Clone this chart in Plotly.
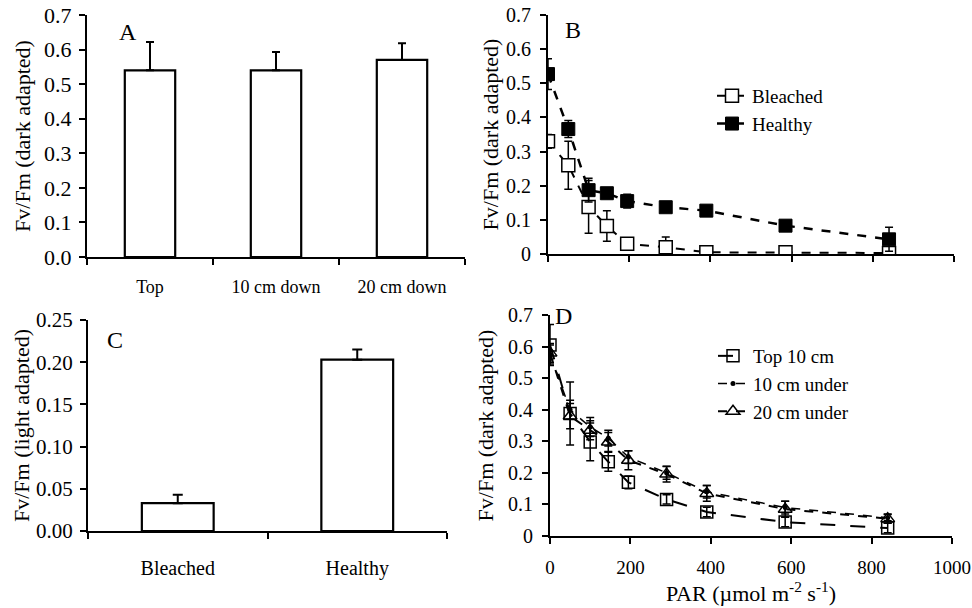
import plotly.graph_objects as go

# ---------------- data ----------------
A_cats = ["Top", "10 cm down", "20 cm down"]
A_vals = [0.54, 0.54, 0.57]
A_err = [0.082, 0.053, 0.048]

C_cats = ["Bleached", "Healthy"]
C_vals = [0.033, 0.203]
C_err = [0.010, 0.012]

PAR = [0, 50, 100, 145, 195, 290, 390, 585, 840]

B_bleached = [0.33, 0.26, 0.138, 0.082, 0.03, 0.02, 0.005, 0.005, 0.003]
B_bleached_err = [0.02, 0.07, 0.077, 0.045, 0.01, 0.03, 0.005, 0.005, 0.005]
B_healthy = [0.527, 0.366, 0.187, 0.178, 0.155, 0.137, 0.127, 0.083, 0.043]
B_healthy_err = [0.045, 0.025, 0.035, 0.01, 0.02, 0.01, 0.01, 0.01, 0.035]

D_top10 = [0.605, 0.388, 0.298, 0.235, 0.17, 0.116, 0.076, 0.044, 0.025]
D_top10_err = [0.065, 0.1, 0.06, 0.03, 0.02, 0.015, 0.015, 0.015, 0.015]
D_10under = [0.575, 0.40, 0.345, 0.31, 0.25, 0.20, 0.14, 0.09, 0.058]
D_10under_err = [0.03, 0.03, 0.03, 0.025, 0.02, 0.02, 0.02, 0.02, 0.01]
D_20under = [0.58, 0.38, 0.335, 0.298, 0.24, 0.196, 0.135, 0.085, 0.055]
D_20under_err = [0.03, 0.04, 0.03, 0.03, 0.03, 0.025, 0.025, 0.025, 0.015]

W, H = 972, 608
FONT = "Liberation Serif"

def xd(a, b):
    return [a / W, b / W]

def yd(top, bottom):
    return [1 - bottom / H, 1 - top / H]

fig = go.Figure()

# Panel A
fig.add_trace(go.Bar(
    x=A_cats, y=A_vals, width=0.4,
    marker=dict(color="white", line=dict(color="black", width=2.2)),
    error_y=dict(type="data", array=A_err, arrayminus=[0] * len(A_err), symmetric=False,
                 color="black", thickness=2, width=4),
    xaxis="x", yaxis="y", showlegend=False))

# Panel C
fig.add_trace(go.Bar(
    x=C_cats, y=C_vals, width=0.4,
    marker=dict(color="white", line=dict(color="black", width=2.2)),
    error_y=dict(type="data", array=C_err, arrayminus=[0] * len(C_err), symmetric=False,
                 color="black", thickness=2, width=5),
    xaxis="x3", yaxis="y3", showlegend=False))

# Panel B
fig.add_trace(go.Scatter(
    x=PAR, y=B_bleached, name="Bleached", mode="lines+markers",
    line=dict(color="black", width=2, dash="dash"),
    marker=dict(symbol="square", size=13, color="white", line=dict(color="black", width=1.5)),
    error_y=dict(type="data", array=B_bleached_err, color="black", thickness=1.5, width=4),
    xaxis="x2", yaxis="y2", legend="legend", legendgroup="b1"))
fig.add_trace(go.Scatter(
    x=PAR, y=B_healthy, name="Healthy", mode="lines+markers",
    line=dict(color="black", width=2.5, dash="dash"),
    marker=dict(symbol="square", size=13, color="black", line=dict(color="black", width=1)),
    error_y=dict(type="data", array=B_healthy_err, color="black", thickness=1.5, width=4),
    xaxis="x2", yaxis="y2", legend="legend", legendgroup="b2"))

# Panel D
fig.add_trace(go.Scatter(
    x=PAR, y=D_top10, name="Top 10 cm", mode="lines+markers",
    line=dict(color="black", width=2, dash="longdash"),
    marker=dict(symbol="square-open", size=12, color="black", line=dict(width=1.5)),
    error_y=dict(type="data", array=D_top10_err, color="black", thickness=1.5, width=4),
    xaxis="x4", yaxis="y4", legend="legend2", legendgroup="d1"))
fig.add_trace(go.Scatter(
    x=PAR, y=D_10under, name="10 cm under", mode="lines+markers",
    line=dict(color="black", width=1.5, dash="dash"),
    marker=dict(symbol="circle", size=5, color="black"),
    error_y=dict(type="data", array=D_10under_err, color="black", thickness=1.5, width=4),
    xaxis="x4", yaxis="y4", legend="legend2", legendgroup="d2"))
fig.add_trace(go.Scatter(
    x=PAR, y=D_20under, name="20 cm under", mode="lines+markers",
    line=dict(color="black", width=2, dash="dash"),
    marker=dict(symbol="triangle-up-open", size=12, color="black", line=dict(width=1.5)),
    error_y=dict(type="data", array=D_20under_err, color="black", thickness=1.5, width=4),
    xaxis="x4", yaxis="y4", legend="legend2", legendgroup="d3"))

def ax(size, **kw):
    d = dict(showline=True, linecolor="black", linewidth=2, ticks="outside",
             tickcolor="black", tickwidth=2, ticklen=6, showgrid=False, automargin=False,
             zeroline=False, tickfont=dict(family=FONT, size=size, color="black"))
    d.update(kw)
    return d

ytitle_font = dict(family=FONT, size=22, color="black")

fig.update_layout(
    width=W, height=H,
    margin=dict(l=0, r=0, t=0, b=0),
    paper_bgcolor="white", plot_bgcolor="white",
    font=dict(family=FONT, color="black"),
    xaxis=ax(18, domain=xd(87, 465), anchor="y", tickson="boundaries", ticklabelstandoff=12),
    yaxis=ax(22, domain=yd(15, 257), anchor="x", range=[0, 0.7], dtick=0.1, tickformat=".1f",
             ticklabelstandoff=3,
             title=dict(text="Fv/Fm (dark adapted)", font=ytitle_font, standoff=7)),
    xaxis2=ax(20, domain=xd(548, 954), anchor="y2", range=[0, 1000], dtick=200,
              showticklabels=False),
    yaxis2=ax(20, domain=yd(15, 254), anchor="x2", range=[0, 0.7], dtick=0.1, tickformat=".1~f",
              ticklabelstandoff=5,
              title=dict(text="Fv/Fm (dark adapted)", font=ytitle_font, standoff=1)),
    xaxis3=ax(20, domain=xd(88, 447), anchor="y3", tickson="boundaries", ticklabelstandoff=18),
    yaxis3=ax(21, domain=yd(320, 531), anchor="x3", range=[0, 0.25], dtick=0.05, tickformat=".2f",
              ticklabelstandoff=3,
              title=dict(text="Fv/Fm (light adapted)", font=ytitle_font, standoff=0)),
    xaxis4=ax(19, domain=xd(550, 952), anchor="y4", range=[0, 1000], dtick=200,
              ticklabelstandoff=7,
              title=dict(text="PAR (µmol m<sup>-2</sup> s<sup>-1</sup>)",
                         font=dict(family=FONT, size=22, color="black"), standoff=4)),
    yaxis4=ax(20, domain=yd(315, 536), anchor="x4", range=[0, 0.7], dtick=0.1, tickformat=".1~f",
              ticklabelstandoff=5,
              title=dict(text="Fv/Fm (dark adapted)", font=ytitle_font, standoff=8)),
    legend=dict(x=712 / W, y=1 - 77 / H, xanchor="left", yanchor="top",
                bgcolor="rgba(0,0,0,0)", borderwidth=0, traceorder="grouped",
                tracegroupgap=0, font=dict(family=FONT, size=19, color="black")),
    legend2=dict(x=713 / W, y=1 - 337 / H, xanchor="left", yanchor="top",
                 bgcolor="rgba(0,0,0,0)", borderwidth=0, traceorder="grouped",
                 tracegroupgap=0, font=dict(family=FONT, size=19, color="black")),
)

letters = [("A", 128, 32), ("B", 573, 30), ("C", 115, 340), ("D", 563, 316)]
for txt, px, py in letters:
    fig.add_annotation(text=txt, x=px / W, y=1 - py / H, xref="paper", yref="paper",
                       showarrow=False, font=dict(family=FONT, size=24, color="black"),
                       xanchor="center", yanchor="middle")

# the page's default body margin would offset the 972x608 figure; remove it
fig.write_html("out.html", config={"displayModeBar": False},
               post_script="document.body.style.margin='0';document.body.style.overflow='hidden';")
